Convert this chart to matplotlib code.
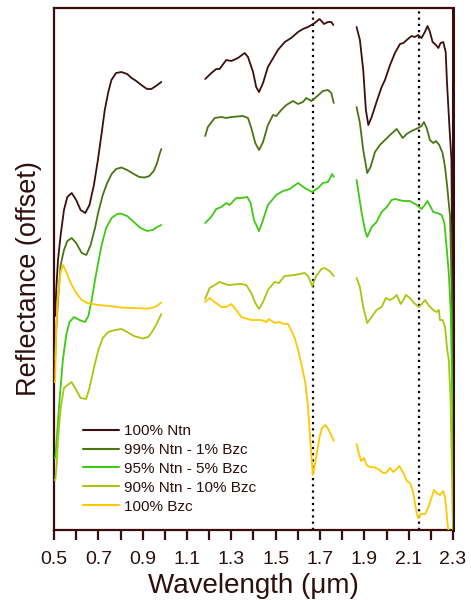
import matplotlib
matplotlib.use("Agg")
import matplotlib.pyplot as plt
import numpy as np
from matplotlib.ticker import FixedLocator

plt.rcParams['font.family'] = ['Liberation Sans', 'DejaVu Sans']

labels = ["100% Ntn", "99% Ntn - 1% Bzc", "95% Ntn - 5% Bzc", "90% Ntn - 10% Bzc", "100% Bzc"]
colors = ["#3d0f0f", "#4a7512", "#3fc814", "#a5c80f", "#ffc800"]

# ---- 100% Ntn ----
ntn_w1 = [0.500, 0.505, 0.510, 0.518, 0.530, 0.545, 0.560, 0.580, 0.600, 0.620, 0.641, 0.660, 0.680, 0.698,
          0.715, 0.729, 0.745, 0.759, 0.780, 0.804, 0.830, 0.850, 0.871, 0.900, 0.920, 0.939, 0.960, 0.984]
ntn_r1 = [2.14, 2.14, 2.40, 2.70, 2.95, 3.20, 3.33, 3.37, 3.30, 3.20, 3.17, 3.25, 3.45, 3.70,
          3.97, 4.20, 4.38, 4.50, 4.57, 4.58, 4.56, 4.52, 4.49, 4.44, 4.41, 4.41, 4.44, 4.48]
ntn_w2 = [1.182, 1.210, 1.232, 1.247, 1.277, 1.300, 1.330, 1.360, 1.375, 1.398, 1.412, 1.425, 1.443, 1.465,
          1.510, 1.541, 1.570, 1.601, 1.623, 1.646, 1.676, 1.698, 1.718, 1.736, 1.751, 1.760]
ntn_r2 = [4.51, 4.57, 4.61, 4.61, 4.70, 4.69, 4.72, 4.77, 4.73, 4.58, 4.43, 4.38, 4.47, 4.63,
          4.80, 4.88, 4.92, 4.98, 5.01, 5.03, 5.07, 5.11, 5.06, 5.08, 5.08, 5.05]
ntn_w3 = [1.865, 1.880, 1.895, 1.907, 1.918, 1.933, 1.955, 1.978, 1.993, 2.016, 2.038, 2.061, 2.076, 2.091,
          2.113, 2.128, 2.143, 2.158, 2.173, 2.185, 2.196, 2.208, 2.223, 2.234, 2.244, 2.256, 2.267, 2.273,
          2.284, 2.293, 2.298, 2.300]
ntn_r3 = [5.03, 4.90, 4.60, 4.20, 4.05, 4.13, 4.28, 4.43, 4.50, 4.65, 4.77, 4.86, 4.87, 4.90,
          4.94, 4.93, 4.95, 4.92, 4.98, 5.04, 4.98, 4.88, 4.85, 4.82, 4.87, 4.88, 4.78, 4.47,
          4.03, 3.70, 2.30, 1.10]

# ---- 99% Ntn - 1% Bzc ----
n99_w1 = [0.500, 0.505, 0.510, 0.518, 0.530, 0.545, 0.560, 0.580, 0.600, 0.625, 0.646, 0.665, 0.685, 0.700,
          0.720, 0.740, 0.760, 0.780, 0.804, 0.830, 0.860, 0.885, 0.909, 0.930, 0.950, 0.965, 0.975, 0.984]
n99_r1 = [1.71, 1.71, 2.00, 2.30, 2.65, 2.80, 2.89, 2.92, 2.87, 2.77, 2.75, 2.85, 3.02, 3.18,
          3.35, 3.47, 3.56, 3.61, 3.625, 3.60, 3.56, 3.53, 3.525, 3.54, 3.59, 3.67, 3.75, 3.81]
n99_w2 = [1.182, 1.194, 1.225, 1.255, 1.277, 1.300, 1.352, 1.375, 1.390, 1.408, 1.425, 1.443, 1.465, 1.488,
          1.503, 1.525, 1.548, 1.578, 1.601, 1.623, 1.638, 1.661, 1.683, 1.713, 1.736, 1.751, 1.762]
n99_r2 = [3.94, 4.03, 4.12, 4.13, 4.12, 4.13, 4.14, 4.12, 4.02, 3.87, 3.80, 3.88, 4.05, 4.15,
          4.14, 4.20, 4.25, 4.29, 4.26, 4.28, 4.32, 4.29, 4.33, 4.39, 4.40, 4.37, 4.27]
n99_w3 = [1.865, 1.880, 1.895, 1.913, 1.928, 1.948, 1.970, 1.993, 2.016, 2.031, 2.046, 2.061, 2.073, 2.091,
          2.113, 2.143, 2.158, 2.169, 2.181, 2.196, 2.211, 2.223, 2.238, 2.253, 2.264, 2.274, 2.287,
          2.295, 2.300]
n99_r3 = [4.23, 4.07, 3.80, 3.57, 3.63, 3.78, 3.85, 3.90, 3.95, 3.98, 4.01, 3.96, 3.92, 3.96,
          3.99, 4.02, 4.04, 4.08, 4.02, 3.90, 3.87, 3.89, 3.85, 3.77, 3.63, 3.43, 3.13,
          2.30, 1.10]

# ---- 95% Ntn - 5% Bzc ----
n95_w1 = [0.500, 0.506, 0.512, 0.525, 0.540, 0.555, 0.570, 0.590, 0.615, 0.640, 0.655, 0.670, 0.685, 0.700,
          0.715, 0.735, 0.760, 0.785, 0.800, 0.830, 0.860, 0.890, 0.920, 0.945, 0.965, 0.984]
n95_r1 = [0.72, 0.72, 0.90, 1.30, 1.70, 1.95, 2.08, 2.13, 2.10, 2.08, 2.14, 2.30, 2.50, 2.68,
          2.85, 3.02, 3.12, 3.16, 3.165, 3.14, 3.08, 3.02, 2.99, 3.00, 3.03, 3.05]
n95_w2 = [1.182, 1.209, 1.232, 1.255, 1.277, 1.292, 1.322, 1.345, 1.372, 1.387, 1.402, 1.425, 1.443, 1.465,
          1.503, 1.533, 1.563, 1.601, 1.631, 1.665, 1.691, 1.713, 1.736, 1.755, 1.762]
n95_r2 = [3.07, 3.13, 3.21, 3.23, 3.27, 3.25, 3.32, 3.32, 3.33, 3.27, 3.10, 2.99, 3.10, 3.25,
          3.35, 3.39, 3.41, 3.47, 3.42, 3.38, 3.42, 3.47, 3.48, 3.56, 3.53]
n95_w3 = [1.865, 1.872, 1.888, 1.903, 1.913, 1.933, 1.955, 1.978, 2.001, 2.023, 2.038, 2.076, 2.106, 2.136,
          2.158, 2.173, 2.185, 2.199, 2.211, 2.229, 2.249, 2.261, 2.271, 2.281, 2.290, 2.297, 2.300]
n95_r3 = [3.50, 3.40, 3.17, 3.00, 2.93, 3.03, 3.08, 3.18, 3.23, 3.30, 3.31, 3.29, 3.29, 3.25,
          3.21, 3.25, 3.29, 3.23, 3.18, 3.17, 3.15, 3.07, 2.83, 2.57, 2.17, 1.30, 0.50]

# ---- 90% Ntn - 10% Bzc ----
n90_w1 = [0.500, 0.506, 0.512, 0.518, 0.530, 0.545, 0.579, 0.600, 0.620, 0.645, 0.660, 0.680, 0.700, 0.720,
          0.745, 0.775, 0.805, 0.830, 0.860, 0.900, 0.925, 0.945, 0.965, 0.984]
n90_r1 = [0.50, 0.50, 0.65, 0.90, 1.22, 1.42, 1.48, 1.40, 1.32, 1.31, 1.42, 1.62, 1.80, 1.92,
          1.98, 2.00, 2.01, 1.98, 1.94, 1.915, 1.93, 1.99, 2.07, 2.16]
n90_w2 = [1.182, 1.202, 1.225, 1.247, 1.285, 1.345, 1.367, 1.390, 1.408, 1.425, 1.443, 1.465, 1.495, 1.515,
          1.540, 1.585, 1.631, 1.646, 1.665, 1.683, 1.706, 1.721, 1.743, 1.762]
n90_r2 = [2.31, 2.42, 2.45, 2.48, 2.45, 2.46, 2.45, 2.37, 2.27, 2.21, 2.28, 2.40, 2.48, 2.47,
          2.54, 2.55, 2.57, 2.54, 2.44, 2.54, 2.61, 2.62, 2.59, 2.54]
n90_w3 = [1.865, 1.880, 1.895, 1.913, 1.933, 1.955, 1.978, 1.997, 2.016, 2.031, 2.046, 2.064, 2.076, 2.088,
          2.106, 2.124, 2.146, 2.163, 2.174, 2.189, 2.210, 2.226, 2.236, 2.241, 2.253, 2.264, 2.274,
          2.281, 2.289, 2.296, 2.300]
n90_r3 = [2.52, 2.43, 2.23, 2.07, 2.13, 2.20, 2.23, 2.32, 2.30, 2.32, 2.35, 2.26, 2.30, 2.35,
          2.32, 2.27, 2.23, 2.27, 2.30, 2.25, 2.20, 2.18, 2.20, 2.10, 2.10, 2.03, 1.80,
          1.70, 1.30, 0.50, 0.00]

# ---- 100% Bzc ----
bzc_w1 = [0.500, 0.505, 0.510, 0.518, 0.530, 0.541, 0.555, 0.575, 0.600, 0.625, 0.650, 0.700, 0.750, 0.800,
          0.850, 0.900, 0.930, 0.955, 0.970, 0.984]
bzc_r1 = [1.48, 1.48, 2.00, 2.35, 2.58, 2.65, 2.58, 2.47, 2.37, 2.30, 2.27, 2.25, 2.24, 2.225,
          2.22, 2.215, 2.215, 2.23, 2.25, 2.275]
bzc_w2 = [1.182, 1.202, 1.225, 1.255, 1.277, 1.300, 1.322, 1.345, 1.390, 1.435, 1.458, 1.469, 1.495, 1.518,
          1.540, 1.556, 1.567, 1.586, 1.601, 1.619, 1.634, 1.646, 1.656, 1.668, 1.683, 1.698, 1.709,
          1.725, 1.740, 1.762]
bzc_r2 = [2.28, 2.32, 2.28, 2.23, 2.23, 2.26, 2.20, 2.13, 2.10, 2.10, 2.08, 2.11, 2.07, 2.08,
          2.06, 2.06, 2.01, 1.92, 1.80, 1.63, 1.47, 1.23, 0.90, 0.55, 0.73, 0.93, 1.02,
          1.05, 1.00, 0.89]
bzc_w3 = [1.865, 1.875, 1.885, 1.898, 1.910, 1.925, 1.940, 1.963, 1.985, 1.997, 2.016, 2.031, 2.046, 2.058,
          2.076, 2.091, 2.106, 2.118, 2.128, 2.136, 2.143, 2.154, 2.174, 2.189, 2.204, 2.215, 2.226,
          2.241, 2.256, 2.264, 2.270, 2.277, 2.280]
bzc_r3 = [0.86, 0.77, 0.69, 0.72, 0.65, 0.63, 0.63, 0.61, 0.57, 0.57, 0.62, 0.58, 0.61, 0.64,
          0.57, 0.49, 0.47, 0.40, 0.27, 0.17, 0.12, 0.16, 0.16, 0.23, 0.33, 0.40, 0.37,
          0.35, 0.39, 0.33, 0.20, 0.03, 0.00]

series = [
    [(ntn_w1, ntn_r1), (ntn_w2, ntn_r2), (ntn_w3, ntn_r3)],
    [(n99_w1, n99_r1), (n99_w2, n99_r2), (n99_w3, n99_r3)],
    [(n95_w1, n95_r1), (n95_w2, n95_r2), (n95_w3, n95_r3)],
    [(n90_w1, n90_r1), (n90_w2, n90_r2), (n90_w3, n90_r3)],
    [(bzc_w1, bzc_r1), (bzc_w2, bzc_r2), (bzc_w3, bzc_r3)],
]

band_lines = [1.668, 2.145]
major_ticks = [0.5, 0.7, 0.9, 1.1, 1.3, 1.5, 1.7, 1.9, 2.1, 2.3]
minor_ticks = [0.6, 0.8, 1.0, 1.2, 1.4, 1.6, 1.8, 2.0, 2.2]

frame_col = "#3a0c0c"
text_col = "#2e0e0e"

fig = plt.figure(figsize=(4.71, 6.00), dpi=100)
ax = fig.add_axes([54/471, 70/600, 399/471, 522/600])

for (segs, lab, col) in zip(series, labels, colors):
    for i, (w, r) in enumerate(segs):
        ax.plot(w, r, color=col, lw=1.3, label=lab if i == 0 else None, zorder=3,
                solid_joinstyle='round', solid_capstyle='round')

for b in band_lines:
    ax.axvline(b, color="black", ls=(0, (1.0, 1.8)), lw=1.6, zorder=2)

ax.set_xlim(0.5, 2.3)
ax.set_ylim(0, 5.22)
ax.xaxis.set_major_locator(FixedLocator(major_ticks))
ax.xaxis.set_minor_locator(FixedLocator(minor_ticks))
ax.set_xticklabels([f"{t:.1f}" for t in major_ticks])
ax.tick_params(axis='x', which='both', direction='out', length=7, width=1.6, color=frame_col,
               labelsize=14, labelcolor=text_col, pad=8)
ax.set_yticks([])
for s in ax.spines.values():
    s.set_color(frame_col)
    s.set_linewidth(1.6)
ax.spines['right'].set_linewidth(2.2)

ax.set_xlabel("Wavelength (\u03bcm)", fontsize=20, color=text_col, labelpad=4)
ax.set_ylabel("Reflectance (offset)", fontsize=19.5, color=text_col)
ax.yaxis.set_label_coords(-0.03, 0.481)

leg = ax.legend(loc='upper left', bbox_to_anchor=(83/471, 1 - 424/600), bbox_transform=fig.transFigure,
                frameon=False, fontsize=11, handlelength=2.35, handletextpad=0.35, labelspacing=0.32,
                borderpad=0, borderaxespad=0)
for t in leg.get_texts():
    t.set_color(text_col)
for h in leg.get_lines():
    h.set_linewidth(1.5)

fig.savefig("out.png", dpi=100)
